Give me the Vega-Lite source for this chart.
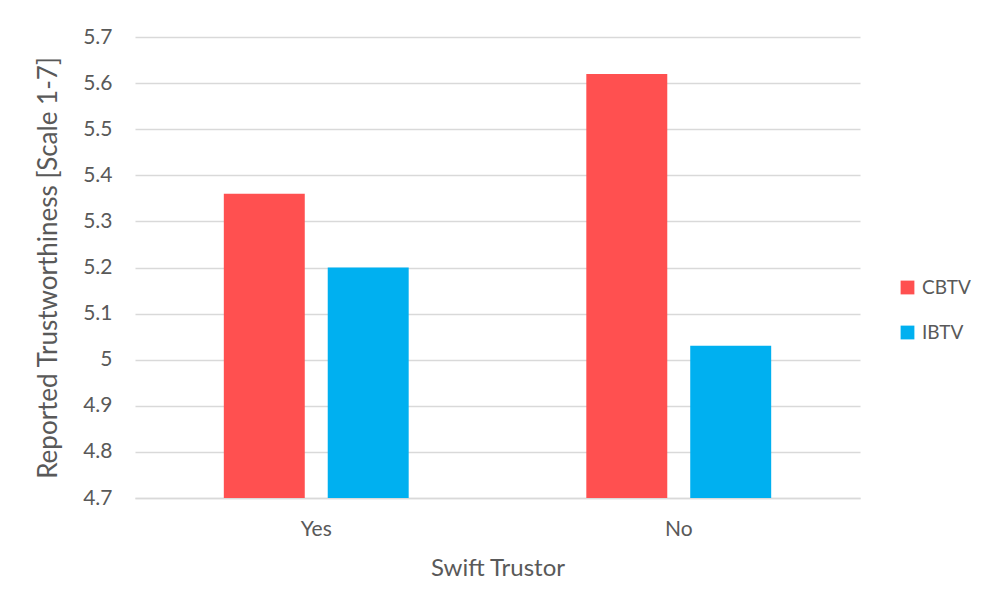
{
  "$schema": "https://vega.github.io/schema/vega-lite/v6.json",
  "width": 725,
  "height": 461,
  "autosize": {"type": "none"},
  "padding": {"left": 135, "top": 37, "right": 127, "bottom": 115},
  "background": "white",
  "data": {
    "values": [
      {"trustor": "Yes", "condition": "CBTV", "score": 5.36},
      {"trustor": "Yes", "condition": "IBTV", "score": 5.20},
      {"trustor": "No", "condition": "CBTV", "score": 5.62},
      {"trustor": "No", "condition": "IBTV", "score": 5.03}
    ]
  },
  "mark": {"type": "bar", "clip": true},
  "encoding": {
    "x": {
      "field": "trustor",
      "type": "nominal",
      "sort": ["Yes", "No"],
      "title": "Swift Trustor",
      "scale": {"paddingInner": 0.49, "paddingOuter": 0.245},
      "axis": {
        "labelAngle": 0,
        "ticks": false,
        "domainColor": "#d9d9d9",
        "domainWidth": 1.3,
        "labelPadding": 20,
        "titlePadding": 17
      }
    },
    "xOffset": {
      "field": "condition",
      "type": "nominal",
      "scale": {"paddingInner": 0.221, "paddingOuter": 0}
    },
    "y": {
      "field": "score",
      "type": "quantitative",
      "title": "Reported Trustworthiness [Scale 1-7]",
      "scale": {"domain": [4.7, 5.7], "zero": false, "nice": false},
      "axis": {
        "values": [4.7, 4.8, 4.9, 5.0, 5.1, 5.2, 5.3, 5.4, 5.5, 5.6, 5.7],
        "format": "~g",
        "ticks": false,
        "domain": false,
        "labelPadding": 23,
        "titlePadding": 21,
        "titleFontSize": 26,
        "gridColor": "#d9d9d9",
        "gridWidth": 1.3
      }
    },
    "color": {
      "field": "condition",
      "type": "nominal",
      "scale": {"domain": ["CBTV", "IBTV"], "range": ["#ff5050", "#00b0f0"]},
      "legend": {
        "title": null,
        "orient": "none",
        "legendX": 763,
        "legendY": 241,
        "symbolType": "square",
        "symbolSize": 190,
        "symbolStrokeWidth": 0,
        "rowPadding": 25,
        "labelOffset": 5
      }
    }
  },
  "config": {
    "view": {"stroke": null},
    "font": "Lato",
    "axis": {
      "labelFont": "Lato",
      "titleFont": "Lato",
      "labelFontSize": 21,
      "titleFontSize": 24,
      "titleFontWeight": "normal",
      "labelColor": "#595959",
      "titleColor": "#595959"
    },
    "legend": {
      "labelFont": "Lato",
      "labelFontSize": 19,
      "labelColor": "#595959"
    }
  }
}
